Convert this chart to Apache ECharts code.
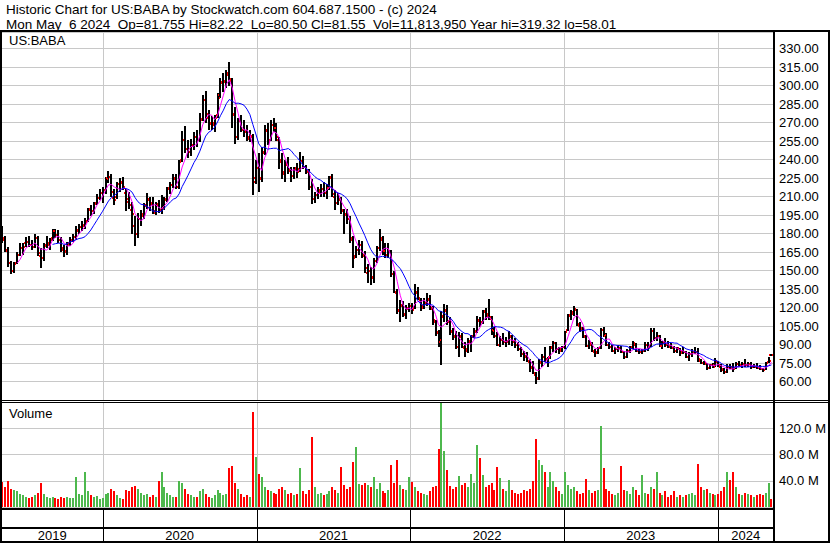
<!DOCTYPE html>
<html><head><meta charset="utf-8">
<script src="https://cdn.jsdelivr.net/npm/echarts@6/dist/echarts.min.js"></script>
<style>html,body{margin:0;padding:0;background:#fff}#c{width:830px;height:543px}</style>
</head><body><div id="c"></div>
<script>
// ---- data (weekly bars, May 2019 - May 2024) ----
const yearLabels = ['2019','2020','2021','2022','2023','2024'];
const priceTicks = [60,75,90,105,120,135,150,165,180,195,210,225,240,255,270,285,300,315,330];
const volumeTicks = [40,80,120];
const firstWeek = '2019-05-08';

const open = [
184,175,166,156,150,156,163,168,172,173,171,169,176,162,160,171,171,176,182,179,175,167,165,172,175,177,183,185,187,190,199,198,205,209,213,
215,225,226,209,210,220,221,213,208,199,186,180,192,196,203,207,205,197,203,199,201,208,217,219,225,218,240,256,249,246,252,258,256,273,288,274,270,268,276,292,303,304,310,304,277,258,272,264,262,257,259,225,
233,224,246,264,256,268,266,256,240,228,237,231,227,233,232,239,234,230,218,208,211,215,216,213,217,226,210,205,207,198,196,192,175,162,167,171,162,148,150,144,158,168,175,166,163,165,147,132,117,121,114,119,
121,120,132,126,121,124,126,119,108,99,92,112,117,108,100,97,88,96,87,86,92,97,101,109,108,117,115,111,102,97,90,94,92,92,96,92,90,86,82,81,76,72,65,63,75,80,78,80,87,91,86,86,
88,102,113,116,118,105,102,96,89,90,84,84,87,102,97,90,88,85,86,87,84,80,85,88,90,85,84,85,90,89,101,95,97,89,92,90,88,87,85,86,84,84,80,82,84,84,77,75,74,71,73,73,
76,72,70,68,72,72,71,74,73,74,73,74,72,72,71,70,69,76,81.755];
const high = [
186,178,169,158,157,165,172,172,177,178,175,180,178,168,172,178,176,184,184,183,177,171,173,177,180,186,188,190,193,201,203,206,212,216,218,
226,231,228,216,222,225,226,216,214,206,194,197,199,205,213,210,210,206,207,211,210,218,222,228,228,240,263,267,256,257,262,264,278,292,296,280,275,276,294,306,310,313,319,306,283,274,276,272,268,264,261,240,
245,250,268,270,272,274,270,258,245,240,242,234,234,237,246,243,236,232,224,214,218,220,222,220,227,228,215,213,210,200,200,194,178,170,175,174,166,155,153,160,170,184,178,172,172,167,150,135,126,125,122,124,
124,139,137,128,128,132,130,121,110,102,117,123,122,112,103,101,100,99,92,95,98,103,113,112,118,120,127,113,104,100,97,99,96,101,98,95,92,88,85,84,78,77,68,78,82,88,80,89,93,92,88,89,
101,115,118,121,119,108,104,98,94,92,86,88,103,104,99,92,90,88,90,89,85,86,89,93,91,86,86,92,92,103,103,100,98,93,95,93,91,89,88,87,88,85,84,86,88,87,78,77,75,74,75,79,
77,74,71,74,74,75,76,77,76,78,76,76,74,75,73,71,76,80,82.22];
const low = [
172,165,153,147,148,155,162,163,169,169,167,168,162,152,158,168,167,174,176,172,165,161,163,170,173,175,180,182,184,189,194,196,203,207,205,
212,221,210,203,208,214,215,198,200,180,170,176,186,192,200,198,196,195,197,196,199,206,212,217,216,216,238,245,241,243,248,250,254,271,270,264,264,262,274,290,295,298,300,266,253,256,262,258,255,254,211,220,
214,222,244,252,255,262,255,232,224,222,228,222,224,225,230,232,228,215,204,205,208,210,210,208,215,210,199,203,196,180,188,172,152,160,163,160,148,140,138,140,156,166,163,160,160,145,132,115,108,112,111,116,
115,119,126,117,119,121,118,106,97,88,73,108,106,98,94,86,80,87,80,83,84,95,99,104,107,110,110,98,95,89,88,90,88,90,89,87,85,80,77,76,68,66,58,61,72,76,72,78,84,83,82,84,
86,101,110,113,105,100,95,88,86,84,80,82,86,96,89,86,84,82,84,83,78,79,83,86,84,82,82,84,85,88,93,93,88,86,88,87,86,83,83,81,82,79,77,80,82,76,74,73,69,70,71,72,
72,68,66,67,70,68,70,72,71,72,72,70,71,70,69,68,69,75,80.5];
const close = [
176,167,156,150,155,163,168,169,173,171,169,176,164,160,170,172,175,182,179,175,168,166,171,175,177,182,185,186,189,200,198,204,209,213,215,
224,226,214,207,220,222,218,206,203,196,180,192,194,202,208,204,198,204,199,200,207,216,219,224,218,238,256,249,246,251,258,256,272,288,277,269,270,274,290,302,303,309,305,276,258,271,264,263,258,258,222,233,
225,245,263,254,268,266,258,238,230,236,232,227,232,230,239,234,231,218,208,211,214,216,213,217,225,212,205,208,199,195,192,176,160,167,171,163,152,150,145,158,168,176,166,163,166,147,133,118,122,115,120,121,
118,133,128,120,123,127,120,110,100,94,113,118,109,101,96,88,97,88,85,93,96,100,110,108,116,113,112,101,97,90,94,92,93,97,92,90,86,82,80,77,71,67,62,76,80,78,79,88,91,86,85,88,
100,114,115,119,107,103,97,89,91,85,83,87,102,98,90,88,85,86,87,84,80,85,87,91,85,84,85,90,88,101,95,97,89,91,90,89,87,85,87,83,84,80,82,84,84,78,75,75,71,73,72,77,
73,69,68,72,71,70,74,73,74,73,74,72,72,71,70,69,75,77,81.55];
const volume = [ // millions
38,30,40,28,26,24,20,18,16,14,15,18,22,37,20,16,14,15,13,12,16,14,15,13,14,45,20,18,53,24,18,16,17,12,14,
20,22,28,25,18,14,12,26,24,30,32,28,22,18,20,15,18,16,40,53,30,22,18,16,15,40,36,28,20,18,16,15,24,28,20,16,14,18,26,22,18,20,60,63,36,28,20,16,18,15,145,76,
51,45,30,26,24,22,20,28,30,26,20,22,18,20,59,24,20,26,107,30,20,22,18,20,24,31,26,22,61,34,28,30,68,91,35,33,36,34,30,46,28,36,24,22,26,64,36,71,34,28,26,46,
38,30,24,22,20,18,24,30,32,88,164,85,57,32,28,30,47,34,36,30,51,36,94,74,49,30,34,36,26,61,44,28,24,41,26,22,20,22,26,24,28,40,104,72,64,54,30,54,40,30,24,20,
54,34,28,30,24,20,22,42,26,22,24,26,123,59,28,24,20,18,22,63,26,24,20,30,26,18,49,22,20,30,28,54,22,18,24,16,18,24,16,18,16,18,20,22,18,66,30,26,28,22,20,18,
20,24,30,54,41,54,30,20,18,22,20,18,16,18,20,18,22,37,12];

// ---- derived ----
const FONT = '"Liberation Sans", Arial, sans-serif';
const [fy, fm, fd] = firstWeek.split('-').map(Number);
const weekTimes = close.map((_, i) => new Date(fy, fm - 1, fd + 7 * i).getTime());
const xMin = new Date(2019, 4, 7).getTime();
const xMax = new Date(2024, 4, 14).getTime();

function sma(arr, n, firstShown) {
  return arr.map((v, i) => {
    if (i < Math.max(n - 1, firstShown)) return null;
    let s = 0; for (let k = i - n + 1; k <= i; k++) s += arr[k];
    return s / n;
  });
}
const ma20 = sma(close, 4, 5);
const ma50 = sma(close, 10, 17);

const ohlcData = weekTimes.map((t, i) => [t, open[i], high[i], low[i], close[i]]);
const volData = weekTimes.map((t, i) => [t, volume[i]]);
const yearStartData = yearLabels.slice(1).map(y => [new Date(+y, 0, 1).getTime()]);
const yearSegData = yearLabels.map(y => [Math.max(new Date(+y, 0, 1).getTime(), xMin), Math.min(new Date(+y + 1, 0, 1).getTime(), xMax)]);

function renderYearGrid(params, api) {
  const cs = params.coordSys;
  const x = Math.round(api.coord([api.value(0), 0])[0]);
  return {type: 'rect', shape: {x: x, y: cs.y, width: 1, height: cs.height}, style: {fill: '#c8c8c8'}};
}
function renderBars(params, api) {
  const t = api.value(0);
  const hp = api.coord([t, api.value(2)]);
  const lp = api.coord([t, api.value(3)]);
  const x = Math.round(hp[0]);
  const yH = Math.round(hp[1]), yL = Math.round(lp[1]);
  return {type: 'rect', shape: {x: x - 1, y: yH, width: 2, height: Math.max(1, yL - yH)}, style: {fill: '#000'}};
}
function renderTicks(params, api) {
  const t = api.value(0);
  const op = api.coord([t, api.value(1)]);
  const cp = api.coord([t, api.value(4)]);
  const x = Math.round(op[0]);
  return {type: 'group', children: [
    {type: 'rect', shape: {x: x - 2, y: Math.round(op[1]) - 1, width: 1, height: 2}, style: {fill: '#ff0000'}},
    {type: 'rect', shape: {x: x + 1, y: Math.round(cp[1]) - 1, width: 1, height: 2}, style: {fill: '#ff0000'}}
  ]};
}
function renderVol(params, api) {
  const i = params.dataIndex;
  const cs = params.coordSys;
  const t = api.value(0);
  const p = api.coord([t, api.value(1)]);
  const b = api.coord([t, 0]);
  const x = Math.round(p[0]);
  const top = Math.max(cs.y, Math.round(p[1]));
  const bot = Math.round(b[1]);
  return {type: 'rect', shape: {x: x - 1, y: top, width: 2, height: Math.max(1, bot - top)},
    style: {fill: close[i] >= open[i] ? '#4db84d' : '#ff0000'}};
}
function renderYears(params, api) {
  const cs = params.coordSys;
  const x0 = api.coord([api.value(0), 0])[0];
  const x1 = api.coord([api.value(1), 0])[0];
  const ch = [{type: 'text', style: {text: yearLabels[params.dataIndex], x: (x0 + x1) / 2, y: cs.y + 26.5,
    align: 'center', verticalAlign: 'middle', font: '13px ' + FONT, fill: '#000'}}];
  if (x0 > cs.x + 2) ch.push({type: 'rect', shape: {x: Math.round(x0), y: cs.y, width: 1, height: cs.height}, style: {fill: '#000'}});
  return {type: 'group', children: ch};
}

const hiddenX = (gi) => ({type: 'time', gridIndex: gi, min: xMin, max: xMax,
  axisLine: {show: false}, axisTick: {show: false}, axisLabel: {show: false}, splitLine: {show: false}});

const header1 = 'Historic Chart for US:BABA by Stockwatch.com 604.687.1500 - (c) 2024';
const header2 = 'Mon May\u00a0\u00a06 2024\u00a0\u00a0Op=81.755 Hi=82.22\u00a0\u00a0Lo=80.50 Cl=81.55\u00a0\u00a0Vol=11,813,950 Year hi=319.32 lo=58.01';

const chart = echarts.init(document.getElementById('c'), null, {renderer: 'svg'});
chart.setOption({
  animation: false,
  backgroundColor: '#fff',
  grid: [
    {left: 2, right: 56, top: 32, height: 368},
    {left: 2, right: 56, top: 402, height: 105},
    {left: 2, right: 56, top: 509, height: 34}
  ],
  xAxis: [hiddenX(0), hiddenX(1), hiddenX(2)],
  yAxis: [
    {type: 'value', gridIndex: 0, position: 'right', min: 45, max: 343.5, interval: 15,
      axisLine: {show: false}, axisTick: {show: false},
      axisLabel: {margin: 5, color: '#000', fontSize: 13, fontFamily: FONT,
        formatter: v => priceTicks.indexOf(v) >= 0 ? v.toFixed(2) : ''},
      splitLine: {show: true, lineStyle: {color: '#c8c8c8', width: 1}}},
    {type: 'value', gridIndex: 1, position: 'right', min: 0, max: 160, interval: 40,
      axisLine: {show: false}, axisTick: {show: false},
      axisLabel: {margin: 5, color: '#000', fontSize: 13, fontFamily: FONT,
        formatter: v => volumeTicks.indexOf(v) >= 0 ? v.toFixed(1) + ' M' : ''},
      splitLine: {show: true, lineStyle: {color: '#c8c8c8', width: 1}}},
    {type: 'value', gridIndex: 2, min: 0, max: 1, show: false}
  ],
  series: [
    {type: 'custom', name: 'yeargrid', xAxisIndex: 0, yAxisIndex: 0, z: 1, data: yearStartData, renderItem: renderYearGrid, silent: true},
    {type: 'custom', name: 'range', xAxisIndex: 0, yAxisIndex: 0, z: 2, data: ohlcData, renderItem: renderBars, encode: {x: 0, y: [2, 3]}},
    {type: 'custom', name: 'oc', xAxisIndex: 0, yAxisIndex: 0, z: 3, data: ohlcData, renderItem: renderTicks, encode: {x: 0, y: [1, 4]}},
    {type: 'line', name: 'MA20', xAxisIndex: 0, yAxisIndex: 0, z: 4, showSymbol: false, symbol: 'none',
      data: weekTimes.map((t, i) => [t, ma20[i]]), lineStyle: {color: '#ff00ff', width: 1}},
    {type: 'line', name: 'MA50', xAxisIndex: 0, yAxisIndex: 0, z: 4, showSymbol: false, symbol: 'none',
      data: weekTimes.map((t, i) => [t, ma50[i]]), lineStyle: {color: '#0000ff', width: 1}},
    {type: 'custom', name: 'yeargrid2', xAxisIndex: 1, yAxisIndex: 1, z: 1, data: yearStartData, renderItem: renderYearGrid, silent: true},
    {type: 'custom', name: 'Volume', xAxisIndex: 1, yAxisIndex: 1, z: 2, data: volData, renderItem: renderVol, encode: {x: 0, y: 1}},
    {type: 'custom', name: 'years', xAxisIndex: 2, yAxisIndex: 2, z: 2, data: yearSegData, renderItem: renderYears, silent: true}
  ],
  graphic: [
    {type: 'text', x: 6, y: 9.5, z: 100, style: {text: header1, font: '13.5px ' + FONT, lineHeight: 14, fill: '#000', verticalAlign: 'middle'}},
    {type: 'text', x: 6, y: 24, z: 100, style: {text: header2, font: '13.5px ' + FONT, lineHeight: 14, fill: '#000', verticalAlign: 'middle'}},
    {type: 'text', x: 9, y: 40.5, z: 100, style: {text: 'US:BABA', font: '13px ' + FONT, fill: '#000', verticalAlign: 'middle'}},
    {type: 'text', x: 9, y: 413.5, z: 100, style: {text: 'Volume', font: '13px ' + FONT, fill: '#000', verticalAlign: 'middle'}},
    {type: 'rect', z: 100, shape: {x: 0, y: 30, width: 830, height: 2}, style: {fill: '#000'}},
    {type: 'rect', z: 100, shape: {x: 0, y: 30, width: 2, height: 513}, style: {fill: '#000'}},
    {type: 'rect', z: 100, shape: {x: 773, y: 30, width: 2, height: 513}, style: {fill: '#000'}},
    {type: 'rect', z: 100, shape: {x: 828, y: 30, width: 2, height: 513}, style: {fill: '#000'}},
    {type: 'rect', z: 100, shape: {x: 0, y: 400, width: 830, height: 1}, style: {fill: '#000'}},
    {type: 'rect', z: 100, shape: {x: 0, y: 402, width: 830, height: 1}, style: {fill: '#000'}},
    {type: 'rect', z: 100, shape: {x: 0, y: 508, width: 775, height: 2}, style: {fill: '#000'}},
    {type: 'rect', z: 100, shape: {x: 0, y: 527, width: 775, height: 2}, style: {fill: '#000'}},
    {type: 'rect', z: 100, shape: {x: 0, y: 541, width: 830, height: 2}, style: {fill: '#000'}}
  ]
});
</script>
</body></html>
